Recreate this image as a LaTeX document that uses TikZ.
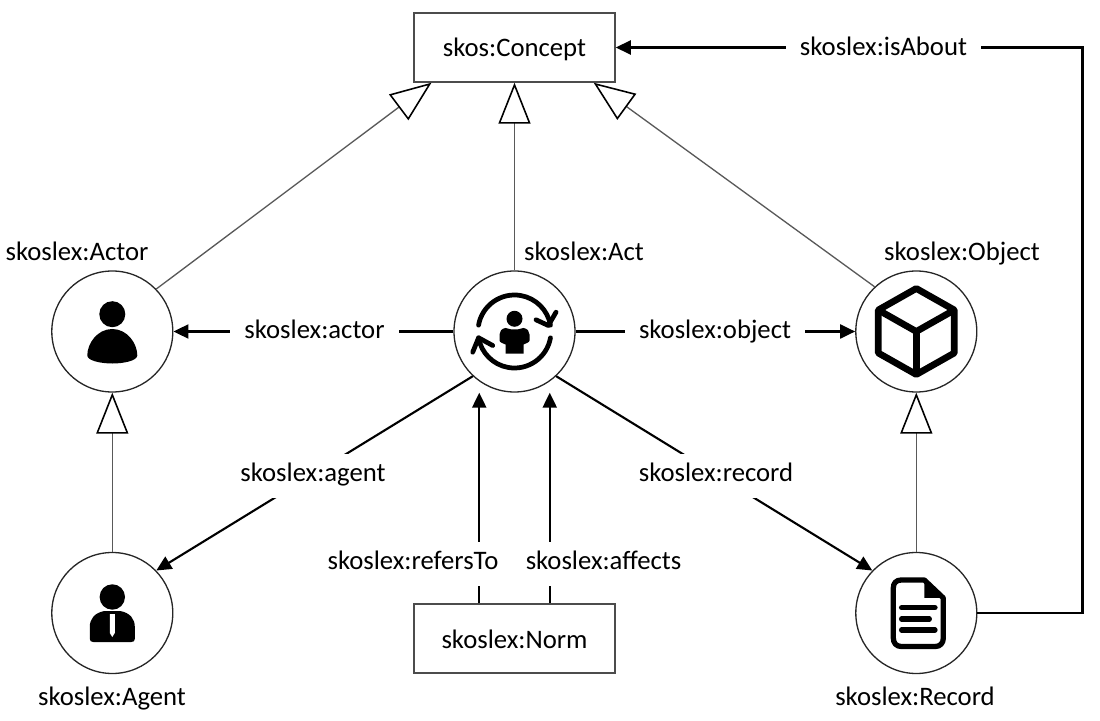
\documentclass[tikz,border=0pt]{standalone}
\usepackage{fontspec}
\setmainfont{Carlito}
\usetikzlibrary{%
  arrows.meta,%
  calc%
}

\begin{document}
\begin{tikzpicture}
[line width=1.2pt, >={Triangle[length=3mm,width=2.8mm]},
caption/.style={font=\fontsize{15.2pt}{18pt}\selectfont, text height=3.6mm, text depth=1.2mm, inner sep=0pt},
box/.style={rectangle, caption, text height=5mm, draw=black!70, line width=0.85pt, minimum width=4.02cm, minimum height=1.38cm},
entity/.style={circle, draw=black!85, line width=0.75pt, inner sep=0pt, minimum size=2.42cm},
subclass/.style={draw=black!65, line width=0.75pt, -{Triangle[open,length=8.2mm,width=6.4mm,black,line width=0.9pt]}},
rel/.style={->, draw=black},
rellabel/.style={caption, fill=white, inner xsep=2.8mm, inner ysep=2mm},
icon/.style={x=0.02cm, y=0.02cm}]

\useasboundingbox (0,0) rectangle (22,14.4);

\node[box] (concept) at (10.29,13.45) {skos:Concept};
\node[box] (norm) at (10.29,1.63) {skoslex:Norm};
\node[entity] (actor) at (2.246,7.77) {};
\node[entity] (act) at (10.29,7.77) {};
\node[entity] (object) at (18.326,7.77) {};
\node[entity] (agent) at (2.246,2.14) {};
\node[entity] (record) at (18.326,2.14) {};

\node[caption] (actorname) at (1.54,9.31) {skoslex:Actor};
\node[caption] (actname) at (11.68,9.31) {skoslex:Act};
\node[caption] (objectname) at (19.24,9.31) {skoslex:Object};
\node[caption] (agentname) at (2.24,0.41) {skoslex:Agent};
\node[caption] (recordname) at (18.3,0.41) {skoslex:Record};

% subclasses
\draw[subclass] (actor.44) -- (concept.203.5);
\draw[subclass] (act) -- (concept);
\draw[subclass] (object.133) -- (concept.336.5);
\draw[subclass] (agent) -- (actor);
\draw[subclass] (record) -- (object);

% relations
\draw[rel] (act) -- (actor);
\draw[rel] (act) -- (object);
\draw[rel] (act.227) -- (agent.44);
\draw[rel] (act.-47) -- (record.136);
\draw[rel] (norm.135) -- (norm.135 |- act.south);
\draw[rel] (norm.45) -- (norm.45 |- act.south);
\draw[rel] (record.east) -- ++(2.1,0) |- (concept.east);

\node[rellabel] (actorlabel) at (6.29,7.75) {skoslex:actor};
\node[rellabel] (objectlabel) at (14.3,7.75) {skoslex:object};
\node[rellabel] (agentlabel) at (6.26,4.89) {skoslex:agent};
\node[rellabel] (recordlabel) at (14.32,4.89) {skoslex:record};
\node[rellabel] (referslabel) at (8.26,3.13) {skoslex:refersTo};
\node[rellabel] (affectslabel) at (12.07,3.13) {skoslex:affects};
\node[rellabel] (aboutlabel) at (17.67,13.41) {skoslex:isAbout};

% actor icon
\begin{scope}[icon, shift={(actor.center)}]
  \fill (0,17.3) circle (13);
  \fill (0,2.5) .. controls (-15,2.5) and (-25,-12) .. (-25,-24)
    .. controls (-25,-29) and (-12,-32) .. (0,-32)
    .. controls (12,-32) and (25,-29) .. (25,-24)
    .. controls (25,-12) and (15,2.5) .. (0,2.5) -- cycle;
\end{scope}

% agent icon
\begin{scope}[icon, shift={(agent.center)}]
  \fill (0,16) circle (12.7);
  \fill (-8,2) -- (8,2) .. controls (18,0) and (22.5,-6) .. (22.5,-14)
    -- (22.5,-26) .. controls (22.5,-28) and (21,-29) .. (19,-29)
    -- (-19,-29) .. controls (-21,-29) and (-22.5,-28) .. (-22.5,-26)
    -- (-22.5,-14) .. controls (-22.5,-6) and (-18,0) .. (-8,2) -- cycle;
  \fill[white] (-2.5,-1) -- (2.5,-1) -- (2.5,-20) -- (0,-24) -- (-2.5,-20) -- cycle;
\end{scope}

% act icon
\begin{scope}[icon, shift={(act.center)}, line width=2.7pt, line cap=round, line join=round]
  \fill (0,12.7) circle (8);
  \fill (-9,3.5) -- (-3,2) -- (3,2) -- (9,3.5) .. controls (13,3) and (15,0) .. (15,-3)
    -- (15,-9) .. controls (15,-11) and (11,-12) .. (9,-13) -- (9,-22) -- (-9,-22) -- (-9,-13)
    .. controls (-11,-12) and (-15,-11) .. (-15,-9) -- (-15,-3)
    .. controls (-15,0) and (-13,3) .. (-9,3.5) -- cycle;
  \draw (170:36.5) arc[start angle=170, end angle=10, radius=36.5];
  \draw (21.5,11.7) -- (33.8,6) -- (41.5,19.3);
  \draw (-10:36.5) arc[start angle=-10, end angle=-170, radius=36.5];
  \draw (-41.8,-20.7) -- (-35.9,-6.3) -- (-21.8,-14);
\end{scope}

% object icon
\begin{scope}[icon, shift={(object.center)}, line width=3.8pt, line join=round]
  \draw (0,43) -- (38,21.5) -- (38,-21.5) -- (0,-43) -- (-38,-21.5) -- (-38,21.5) -- cycle;
  \draw (-38,21.5) -- (0,0) -- (38,21.5);
  \draw (0,0) -- (0,-43);
\end{scope}

% record icon
\begin{scope}[icon, shift={(record.center)}, line width=3pt, line join=round, line cap=round]
  \draw (-15,33) -- (8,33) -- (27,15) -- (27,-25)
    .. controls (27,-30) and (24,-33.5) .. (19,-33.5) -- (-15,-33.5)
    .. controls (-20,-33.5) and (-23,-30) .. (-23,-25) -- (-23,25)
    .. controls (-23,30) and (-20,33) .. (-15,33) -- cycle;
  \fill (8,33) -- (27,15) -- (8,15) -- cycle;
  \draw (-14.7,5.3) -- (18.7,5.3);
  \draw (-14.7,-6) -- (13,-6);
  \draw (-14.7,-17) -- (18.7,-17);
\end{scope}
\end{tikzpicture}
\end{document}
